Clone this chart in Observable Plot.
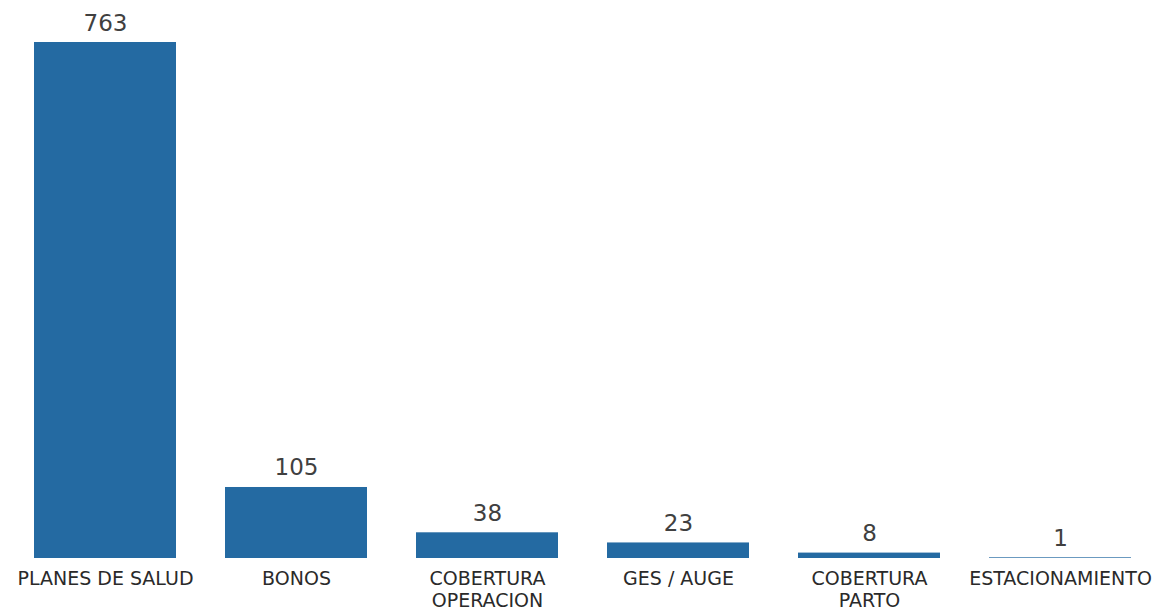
<!DOCTYPE html>
<html>
<head>
<meta charset="utf-8">
<script src="https://cdn.jsdelivr.net/npm/d3@7"></script>
<script src="https://cdn.jsdelivr.net/npm/@observablehq/plot@0.6"></script>
<style>
  html, body { margin: 0; padding: 0; background: #fff; }
  #chart svg { display: block; }
</style>
</head>
<body>
<div id="chart"></div>
<script>
const categories = ["PLANES DE SALUD", "BONOS", "COBERTURA OPERACION", "GES / AUGE", "COBERTURA PARTO", "ESTACIONAMIENTO"];
const tickLabels = ["PLANES DE SALUD", "BONOS", "COBERTURA\nOPERACION", "GES / AUGE", "COBERTURA\nPARTO", "ESTACIONAMIENTO"];
const values = [763, 105, 38, 23, 8, 1];

const data = categories.map((c, i) => ({category: c, value: values[i]}));
const labelOf = new Map(categories.map((c, i) => [c, tickLabels[i]]));

const chart = Plot.plot({
  width: 1155,
  height: 611,
  marginLeft: 33,
  marginRight: 23,
  marginTop: 42,
  marginBottom: 53,
  style: {fontFamily: "DejaVu Sans, sans-serif", background: "#fff"},
  x: {domain: categories, paddingInner: 0.258, paddingOuter: 0, label: null},
  y: {domain: [0, 763], axis: null},
  marks: [
    Plot.barY(data, {x: "category", y: "value", fill: "#246aa2"}),
    Plot.text(data, {x: "category", y: "value", text: d => String(d.value), lineAnchor: "bottom", dy: -12, fontSize: 23, fill: "#404040"}),
    Plot.axisX({tickSize: 0, tickPadding: 10, fontSize: 19, lineHeight: 1.2, fill: "#2a2a2a", tickFormat: d => labelOf.get(d), label: null})
  ]
});
document.getElementById("chart").appendChild(chart);
</script>
</body>
</html>
